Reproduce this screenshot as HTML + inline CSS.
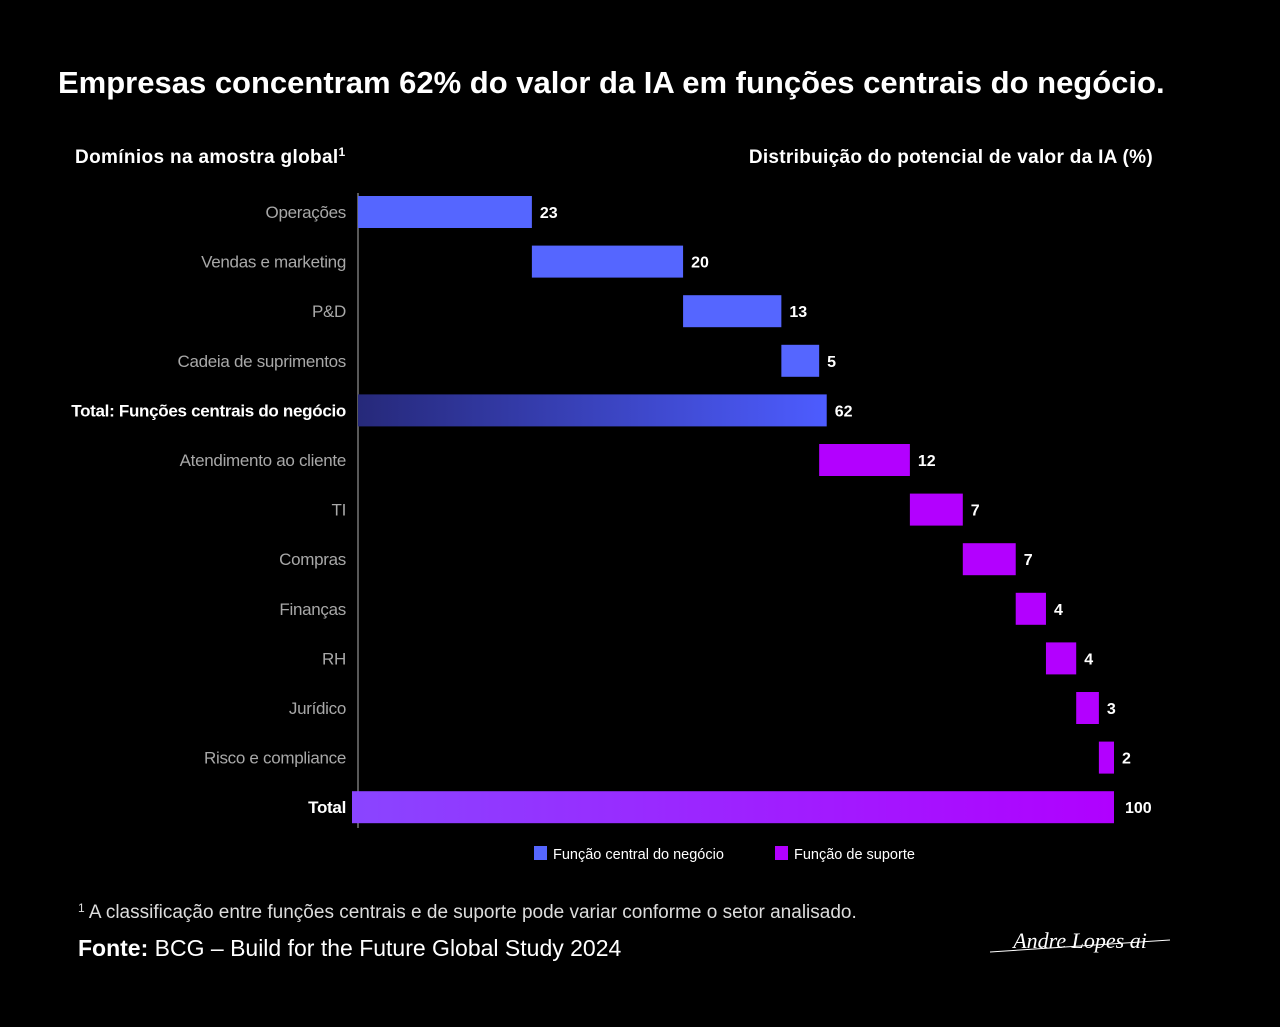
<!DOCTYPE html>
<html><head><meta charset="utf-8"><style>
html,body{margin:0;padding:0;background:#000;}
svg{display:block;font-family:"Liberation Sans",sans-serif;}
</style></head><body>
<svg id="chart" width="1280" height="1027" viewBox="0 0 1280 1027">
<defs>
<linearGradient id="gCore" x1="0" x2="1" y1="0" y2="0"><stop offset="0" stop-color="#26297a"/><stop offset="1" stop-color="#4d5cff"/></linearGradient>
<linearGradient id="gAll" x1="0" x2="1" y1="0" y2="0"><stop offset="0" stop-color="#8a45ff"/><stop offset="1" stop-color="#b000ff"/></linearGradient>
</defs>
<rect width="1280" height="1027" fill="#000"/>
<text x="58" y="93" fill="#fff" font-size="31" font-weight="bold" letter-spacing="0">Empresas concentram 62% do valor da IA em funções centrais do negócio.</text>
<text x="75" y="163" fill="#fff" font-size="19" font-weight="bold" letter-spacing="0.35">Domínios na amostra global<tspan font-size="12" dy="-7">1</tspan></text>
<text x="1153" y="163" fill="#fff" font-size="19" font-weight="bold" text-anchor="end" letter-spacing="0.3">Distribuição do potencial de valor da IA (%)</text>
<line x1="358" y1="193" x2="358" y2="828" stroke="#777" stroke-width="1.5"/>
<g id="bars"></g>
<rect x="534" y="846" width="13" height="14" fill="#5566ff"/>
<text x="553" y="859" fill="#fff" font-size="14.5">Função central do negócio</text>
<rect x="775" y="846" width="13" height="14" fill="#b300ff"/>
<text x="794" y="859" fill="#fff" font-size="14.5">Função de suporte</text>
<text x="78" y="918" fill="#ddd" font-size="19"><tspan font-size="12" dy="-6">1</tspan><tspan dy="6"> A classificação entre funções centrais e de suporte pode variar conforme o setor analisado.</tspan></text>
<text x="78" y="956" fill="#fff" font-size="23"><tspan font-weight="bold">Fonte:</tspan> BCG – Build for the Future Global Study 2024</text>
<text x="1080" y="948" fill="#fff" font-size="22" font-style="italic" font-family="Liberation Serif, serif" text-anchor="middle">Andre Lopes ai</text>
<line x1="990" y1="952" x2="1170" y2="940" stroke="#fff" stroke-width="1"/>
</svg>
<script>
const categories=["Operações","Vendas e marketing","P&D","Cadeia de suprimentos","Total: Funções centrais do negócio","Atendimento ao cliente","TI","Compras","Finanças","RH","Jurídico","Risco e compliance","Total"];
const values=[23,20,13,5,62,12,7,7,4,4,3,2,100];
const kinds=["core","core","core","core","coreTotal","support","support","support","support","support","support","support","total"];
const x0=358,pxPerUnit=7.56;
function xs(v){return x0+v*pxPerUnit;}
function yc(i){return 212+i*49.6;}
const g=document.getElementById('bars');
const NS="http://www.w3.org/2000/svg";
let cum=0;
categories.forEach((c,i)=>{
  const k=kinds[i];const v=values[i];
  let start;
  if(k==="coreTotal"||k==="total"){start=0;}else{start=cum;cum+=v;}
  const r=document.createElementNS(NS,'rect');
  let x=xs(start);if(k==="total")x-=6;
  r.setAttribute('x',x);r.setAttribute('y',yc(i)-16);
  r.setAttribute('width',xs(start+v)-x);r.setAttribute('height',32);
  r.setAttribute('fill',k==="core"?"#5566ff":k==="support"?"#b300ff":k==="coreTotal"?"url(#gCore)":"url(#gAll)");
  
  
  g.appendChild(r);
  const t=document.createElementNS(NS,'text');
  t.setAttribute('x',xs(start+v)+(k==="total"?11:8));t.setAttribute('y',yc(i)+6);
  t.setAttribute('fill','#fff');t.setAttribute('font-size','16');t.setAttribute('font-weight','bold');
  t.textContent=v;
  
  
  g.appendChild(t);
  const l=document.createElementNS(NS,'text');
  const bold=(k==="coreTotal"||k==="total");
  l.setAttribute('x',346);l.setAttribute('y',yc(i)+6);l.setAttribute('text-anchor','end');
  l.setAttribute('fill',bold?'#fff':'#a8a8a8');l.setAttribute('font-size','17');
  if(bold)l.setAttribute('font-weight','bold');
  l.setAttribute('letter-spacing','-0.3');
  l.textContent=c;
  
  
  g.appendChild(l);
});
</script>
</body></html>
